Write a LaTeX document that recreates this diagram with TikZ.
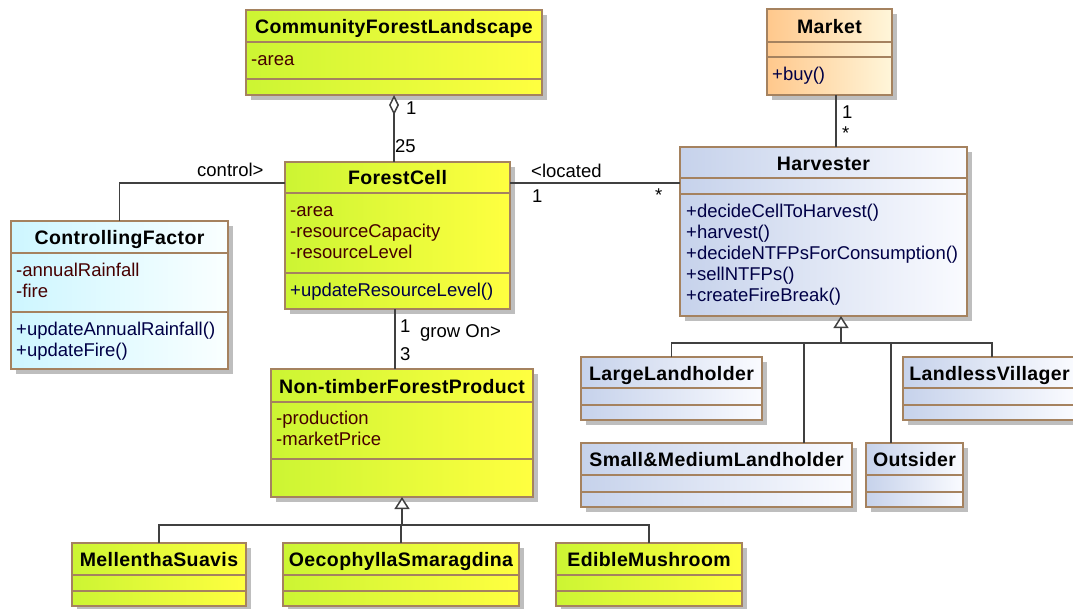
\documentclass[tikz,border=0pt]{standalone}
\usepackage{fontspec}
\setmainfont{Liberation Sans}
\newfontfamily\hdfont{Liberation Sans}[LetterSpace=2]
\usetikzlibrary{arrows.meta,shadows}

\definecolor{bordc}{RGB}{165,130,95}
\definecolor{linec}{RGB}{64,64,64}
\definecolor{ylA}{RGB}{204,245,51}
\definecolor{ylB}{RGB}{255,255,64}
\definecolor{orA}{RGB}{255,200,140}
\definecolor{orB}{RGB}{255,246,218}
\definecolor{blA}{RGB}{198,210,235}
\definecolor{blB}{RGB}{250,251,255}
\definecolor{cyA}{RGB}{205,246,255}
\definecolor{cyB}{RGB}{250,255,255}
\definecolor{attrc}{RGB}{70,0,0}
\definecolor{methc}{RGB}{0,0,70}
\definecolor{shadc}{RGB}{190,190,190}

\tikzset{
  umlbox/.style={draw=bordc, line width=1.5pt, inner sep=0pt, outer sep=0pt, anchor=north west,
    drop shadow={shadow xshift=5pt, shadow yshift=-5pt, fill=shadc, opacity=1}},
  yellowbox/.style={umlbox, left color=ylA, right color=ylB},
  orangebox/.style={umlbox, left color=orA, right color=orB},
  bluebox/.style={umlbox, left color=blA, right color=blB},
  cyanbox/.style={umlbox, left color=cyA, right color=cyB},
  sepline/.style={draw=bordc, line width=1.5pt},
  title/.style={font=\hdfont\bfseries\fontsize{19.5}{22}\selectfont, inner sep=0pt, anchor=base},
  attr/.style={font=\fontsize{18.5}{21}\selectfont, text=attrc, inner sep=0pt, anchor=base west},
  meth/.style={font=\fontsize{18.5}{21}\selectfont, text=methc, inner sep=0pt, anchor=base west},
  lbl/.style={font=\fontsize{18.5}{21}\selectfont, inner sep=0pt, anchor=base west},
  conn/.style={draw=linec, line width=1.5pt},
  gentip/.style={-{Triangle[fill=white, length=12pt, width=15pt]}},
  aggtip/.style={{Diamond[fill=white, length=20pt, width=10pt]}-},
}

\newcommand\umlclass[8]{%
  \node[#2, minimum width={(#5-#3)*1pt}, minimum height={(#6-#4)*1pt}] (#1) at (#3,#4) {};
  \draw[sepline] (#3,#7) -- (#5,#7);
  \draw[sepline] (#3,#8) -- (#5,#8);
}

\begin{document}
\begin{tikzpicture}[x=1pt,y=-1pt]
\useasboundingbox (0,0) rectangle (1073,608);
\clip (0,0) rectangle (1073,608);

% CommunityForestLandscape
\umlclass{cfl}{yellowbox}{246}{10}{542}{95}{42}{79}
\node[title] (cfl-t) at (394,33) {CommunityForestLandscape};
\node[attr] (cfl-a1) at (251,65) {-area};

% Market
\umlclass{mk}{orangebox}{767}{9}{892}{95}{42}{57}
\node[title] (mk-t) at (829.5,33) {Market};
\node[meth] (mk-m1) at (772,80) {+buy()};

% ForestCell
\umlclass{fc}{yellowbox}{285}{162}{510}{309}{193}{273}
\node[title] (fc-t) at (397.5,184) {ForestCell};
\node[attr] (fc-a1) at (290,216) {-area};
\node[attr] (fc-a2) at (290,237) {-resourceCapacity};
\node[attr] (fc-a3) at (290,258) {-resourceLevel};
\node[meth] (fc-m1) at (290,296) {+updateResourceLevel()};

% ControllingFactor
\umlclass{cf}{cyanbox}{11}{221}{228}{369}{253}{312}
\node[title] (cf-t) at (119.5,244) {ControllingFactor};
\node[attr] (cf-a1) at (16,276) {-annualRainfall};
\node[attr] (cf-a2) at (16,297) {-fire};
\node[meth] (cf-m1) at (16,335) {+updateAnnualRainfall()};
\node[meth] (cf-m2) at (16,356) {+updateFire()};

% Harvester
\umlclass{h}{bluebox}{680}{147}{967}{316}{178}{194}
\node[title] (h-t) at (823.5,170) {Harvester};
\node[meth] (h-m1) at (686,217) {+decideCellToHarvest()};
\node[meth] (h-m2) at (686,238) {+harvest()};
\node[meth] (h-m3) at (686,259) {+decideNTFPsForConsumption()};
\node[meth] (h-m4) at (686,280) {+sellNTFPs()};
\node[meth] (h-m5) at (686,301) {+createFireBreak()};

% Non-timberForestProduct
\umlclass{ntfp}{yellowbox}{271}{369}{533}{497}{402}{459}
\node[title] (ntfp-t) at (402,393) {Non-timberForestProduct};
\node[attr] (ntfp-a1) at (276,424) {-production};
\node[attr] (ntfp-a2) at (276,445) {-marketPrice};

% Harvester subclasses
\umlclass{ll}{bluebox}{581}{357}{762}{420}{388}{405}
\node[title] (ll-t) at (671.5,380) {LargeLandholder};
\umlclass{lv}{bluebox}{903}{357}{1076}{420}{388}{405}
\node[title] (lv-t) at (989.5,380) {LandlessVillager};
\umlclass{sm}{bluebox}{581}{443}{852}{507}{475}{492}
\node[title] (sm-t) at (716.5,466) {Small\&MediumLandholder};
\umlclass{out}{bluebox}{866}{443}{963}{507}{475}{492}
\node[title] (out-t) at (914.5,466) {Outsider};

% NTFP subclasses
\umlclass{mell}{yellowbox}{72}{543}{246}{606}{575}{591}
\node[title] (mell-t) at (159,566) {MellenthaSuavis};
\umlclass{oeco}{yellowbox}{283}{543}{519}{606}{575}{591}
\node[title] (oeco-t) at (401,566) {OecophyllaSmaragdina};
\umlclass{edm}{yellowbox}{556}{543}{742}{606}{575}{591}
\node[title] (edm-t) at (649,566) {EdibleMushroom};

% connectors
\draw[conn, aggtip] (cfl.south) -- (cfl.south |- fc.north);

\coordinate (fcl) at ([yshift=-21pt]fc.north west);
\draw[conn] (fcl) -| (cf.north);

\coordinate (fcr) at ([yshift=-21pt]fc.north east);
\draw[conn] (fcr) -- (fcr -| h.west);

\coordinate (mks) at ([xshift=6.5pt]mk.south);
\draw[conn] (mks) -- (mks |- h.north);

\coordinate (fcs) at ([xshift=-2.5pt]fc.south);
\draw[conn] (fcs) -- (fcs |- ntfp.north);

% generalisation Harvester
\coordinate (hg) at ([xshift=17.5pt]h.south);
\coordinate (hbus) at ([yshift=-27pt]hg);
\coordinate (smt) at ([xshift=-48pt]sm.north east);
\coordinate (outt) at ([xshift=25pt]out.north west);
\coordinate (lvt) at ([xshift=89pt]lv.north west);
\draw[conn] (ll.north) |- (hbus);
\draw[conn] (smt) |- (hbus);
\draw[conn] (outt) |- (hbus);
\draw[conn] (lvt) |- (hbus);
\draw[conn, gentip] (hbus) -- (hg);

% generalisation NTFP
\coordinate (nbus) at ([yshift=-28pt]ntfp.south);
\draw[conn] (mell.north) |- (nbus);
\draw[conn] (oeco.north) |- (nbus);
\draw[conn] (edm.north) |- (nbus);
\draw[conn, gentip] (nbus) -- (ntfp.south);

% labels
\node[lbl] (l-agg1) at (406,114) {1};
\node[lbl] (l-agg25) at (395,152) {25};
\node[lbl] (l-ctl) at (197,176) {control>};
\node[lbl] (l-loc) at (531,177) {<located};
\node[lbl] (l-loc1) at (532,202) {1};
\node[lbl] (l-locs) at (655,201) {*};
\node[lbl] (l-mk1) at (842,118) {1};
\node[lbl] (l-mks) at (842,139) {*};
\node[lbl] (l-gr1) at (400,332) {1};
\node[lbl] (l-gr) at (420,337) {grow On>};
\node[lbl] (l-gr3) at (400,360) {3};
\end{tikzpicture}
\end{document}
